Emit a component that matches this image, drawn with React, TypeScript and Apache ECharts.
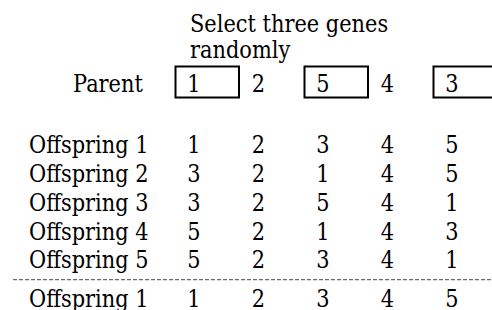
import React, { useEffect, useRef } from "react";
import * as echarts from "echarts";

// ---- data ----
const headerLines = ["Select three genes", "randomly"];
const parentLabel = "Parent";
const parentGenes = [1, 2, 5, 4, 3];
const selectedPositions = [0, 2, 4];
const offspringLabels = [
  "Offspring 1",
  "Offspring 2",
  "Offspring 3",
  "Offspring 4",
  "Offspring 5",
  "Offspring 1",
];
const offspringGenes = [
  [1, 2, 3, 4, 5],
  [3, 2, 1, 4, 5],
  [3, 2, 5, 4, 1],
  [5, 2, 1, 4, 3],
  [5, 2, 3, 4, 1],
  [1, 2, 3, 4, 5],
];

// ---- layout (row slots on the y axis) ----
const HEADER_SLOTS = [-2.07, -1.16];
const PARENT_SLOT = 0;
const OFFSPRING_SLOTS = [2.14, 3.14, 4.14, 5.14, 6.14, 7.49];
const SEPARATOR_SLOT = 6.83;
const FONT = "DejaVu Serif";
const FS = 24;
const SX = 0.872;

type Cell = { col: number; slot: number; text: string; boxed: boolean };
type Lab = { slot: number; text: string; dx: number };

const cells: Cell[] = [];
parentGenes.forEach((g, i) =>
  cells.push({ col: i + 1, slot: PARENT_SLOT, text: String(g), boxed: selectedPositions.includes(i) })
);
offspringGenes.forEach((row, r) =>
  row.forEach((g, i) => cells.push({ col: i + 1, slot: OFFSPRING_SLOTS[r], text: String(g), boxed: false }))
);
const labels: Lab[] = [];
headerLines.forEach((t, i) => labels.push({ slot: HEADER_SLOTS[i], text: t, dx: 60.5 }));
labels.push({ slot: PARENT_SLOT, text: parentLabel, dx: -56.5 });
offspringLabels.forEach((t, r) => labels.push({ slot: OFFSPRING_SLOTS[r], text: t, dx: -100.5 }));

const textStyle = (text: string, align: string) => ({
  text,
  fill: "#000",
  fontSize: FS,
  fontFamily: FONT,
  align,
  verticalAlign: "middle",
});

export default function App() {
  const ref = useRef<HTMLDivElement>(null);
  useEffect(() => {
    if (!ref.current) return;
    const chart = echarts.init(ref.current, null, { renderer: "svg" });
    chart.setOption({
      animation: false,
      backgroundColor: "#fff",
      textStyle: { fontFamily: FONT },
      grid: { left: 129.5, right: 7.75, top: 25.4, bottom: 11 },
      xAxis: { type: "value", min: 0, max: 5.5, show: false },
      yAxis: { type: "value", min: -2, max: 7.5, inverse: true, show: false },
      series: [
        {
          type: "custom",
          clip: false,
          data: cells.map((c) => [c.col, c.slot]),
          renderItem: (params: any, api: any) => {
            const c = cells[params.dataIndex];
            const [px, py] = api.coord([c.col, c.slot]);
            const children: any[] = [];
            if (c.boxed) {
              children.push({
                type: "rect",
                shape: { x: px - 18.5, y: py - 16.5, width: 63.5, height: 31 },
                style: { fill: "none", stroke: "#000", lineWidth: 2 },
              });
            }
            children.push({ type: "text", x: px, y: py, scaleX: SX, style: textStyle(c.text, "center") });
            return { type: "group", children };
          },
        },
        {
          type: "custom",
          clip: false,
          data: labels.map((l) => [0, l.slot]),
          renderItem: (params: any, api: any) => {
            const l = labels[params.dataIndex];
            const [px, py] = api.coord([0, l.slot]);
            return { type: "text", x: px + l.dx, y: py, scaleX: SX, style: textStyle(l.text, "left") };
          },
        },
        {
          type: "custom",
          clip: false,
          data: [[0, SEPARATOR_SLOT]],
          renderItem: (params: any, api: any) => {
            const [px, py] = api.coord([0, SEPARATOR_SLOT]);
            return {
              type: "line",
              shape: { x1: px - 116.5, y1: py, x2: px + 370, y2: py },
              style: { stroke: "#444", lineWidth: 1, lineDash: [4, 2] },
            };
          },
        },
      ],
    });
    return () => chart.dispose();
  }, []);
  return (
    <div
      ref={ref}
      style={{ position: "absolute", left: 0, top: 0, width: 492, height: 310 }}
    />
  );
}
